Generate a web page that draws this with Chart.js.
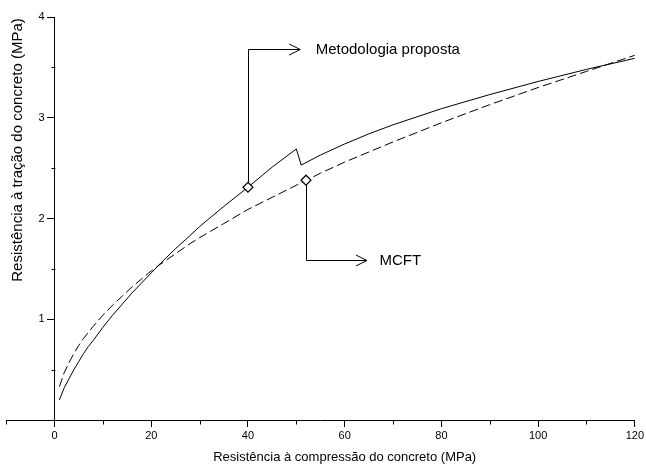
<!DOCTYPE html>
<html>
<head>
<meta charset="utf-8">
<script src="https://cdn.jsdelivr.net/npm/chart.js@4.4.1/dist/chart.umd.min.js"></script>
<style>
  html, body { margin: 0; padding: 0; background: #fff; }
  #chart { display: block; }
</style>
</head>
<body>
<canvas id="chart" width="646" height="464"></canvas>
<script>
// Tensile strength vs compressive strength of concrete (MPa)
const fcProposta = [1, 2, 3, 4, 5, 6, 7, 8, 10, 12, 14, 16, 18, 20, 22, 25, 28, 30, 35, 40, 45, 50,
  51, 55, 60, 65, 70, 80, 90, 100, 110, 120];
const ftProposta = [0.20, 0.32, 0.41, 0.50, 0.58, 0.66, 0.73, 0.79, 0.92, 1.04, 1.15, 1.26, 1.36, 1.46, 1.56, 1.70, 1.83, 1.92, 2.12, 2.31, 2.51, 2.69,
  2.53, 2.63, 2.74, 2.84, 2.93, 3.09, 3.23, 3.36, 3.48, 3.59];

const fcMcft = [1, 2, 3, 4, 5, 6, 7, 8, 10, 12, 14, 16, 18, 20, 22, 25, 28, 30, 35, 40, 45, 50,
  55, 60, 65, 70, 80, 90, 100, 110, 120];
const ftMcft = [0.33, 0.47, 0.57, 0.66, 0.74, 0.81, 0.87, 0.93, 1.04, 1.14, 1.23, 1.32, 1.40, 1.48, 1.55, 1.65, 1.75, 1.81, 1.95, 2.09, 2.21, 2.33,
  2.45, 2.56, 2.66, 2.76, 2.95, 3.13, 3.30, 3.46, 3.62];

const xTickLabels = [0, 20, 40, 60, 80, 100, 120];
const yTickLabels = [1, 2, 3, 4];

// highlighted points on each curve
const markProposta = { x: 40, y: 2.31 };
const markMcft = { x: 52, y: 2.38 };

const FONT = '"Liberation Sans", Arial, sans-serif';

// callouts: vertical from the marker to bendY, then right to the arrow tip
const callouts = [
  { text: 'Metodologia proposta', from: markProposta, bendY: 3.68, tipX: 50.8, textX: 54.0 },
  { text: 'MCFT', from: markMcft, bendY: 1.586, tipX: 64.6, textX: 67.2 }
];

const toPoints = (xs, ys) => xs.map((x, i) => ({ x: x, y: ys[i] }));

const extras = {
  id: 'extras',
  beforeDatasetsDraw(chart) {
    const { ctx, scales: { x, y } } = chart;
    ctx.save();
    ctx.strokeStyle = '#000';
    ctx.lineWidth = 1;
    callouts.forEach((c) => {
      const x0 = Math.round(x.getPixelForValue(c.from.x)) + 0.5;
      const y0 = y.getPixelForValue(c.from.y);
      const yb = Math.round(y.getPixelForValue(c.bendY)) + 0.5;
      const xt = x.getPixelForValue(c.tipX);
      ctx.beginPath();
      ctx.moveTo(x0, y0);
      ctx.lineTo(x0, yb);
      ctx.lineTo(xt, yb);
      ctx.stroke();
      // open arrow head
      ctx.beginPath();
      ctx.moveTo(xt - 11, yb - 5.5);
      ctx.lineTo(xt, yb);
      ctx.lineTo(xt - 11, yb + 5.5);
      ctx.stroke();
      ctx.fillStyle = '#000';
      ctx.font = '15px ' + FONT;
      ctx.textAlign = 'left';
      ctx.textBaseline = 'middle';
      ctx.fillText(c.text, x.getPixelForValue(c.textX), yb);
    });
    ctx.restore();
  },
  afterDraw(chart) {
    const { ctx, scales: { x, y } } = chart;
    ctx.save();
    ctx.strokeStyle = '#000';
    ctx.lineWidth = 1;
    // minor ticks
    const xAxisY = Math.round(y.getPixelForValue(0)) + 0.5;
    const yAxisX = Math.round(x.getPixelForValue(0)) + 0.5;
    ctx.beginPath();
    for (let v = -10; v <= 120; v += 10) {
      if (xTickLabels.includes(v)) continue;
      const px = Math.round(x.getPixelForValue(v)) + 0.5;
      ctx.moveTo(px, xAxisY);
      ctx.lineTo(px, xAxisY + 4);
    }
    for (let v = 0.5; v < 4; v += 1) {
      const py = Math.round(y.getPixelForValue(v)) + 0.5;
      ctx.moveTo(yAxisX, py);
      ctx.lineTo(yAxisX - 4, py);
    }
    ctx.stroke();

    // y tick labels, left of the axis that sits at x = 0
    ctx.fillStyle = '#000';
    ctx.font = '11px ' + FONT;
    ctx.textAlign = 'right';
    ctx.textBaseline = 'middle';
    y.ticks.forEach((t) => {
      if (!yTickLabels.includes(t.value)) return;
      ctx.fillText(String(t.value), yAxisX - 11, y.getPixelForValue(t.value));
    });

    // axis titles
    ctx.font = '13px ' + FONT;
    ctx.textAlign = 'center';
    ctx.fillText('Resistência à compressão do concreto (MPa)', x.getPixelForValue(60), 457);
    ctx.translate(18, 150);
    ctx.rotate(-Math.PI / 2);
    ctx.font = '15px ' + FONT;
    ctx.fillText('Resistência à tração do concreto (MPa)', 0, 0);
    ctx.restore();
  }
};

new Chart(document.getElementById('chart'), {
  type: 'line',
  data: {
    datasets: [
      {
        data: [markProposta, markMcft],
        showLine: false,
        pointStyle: 'rectRot',
        pointRadius: 5,
        pointBackgroundColor: '#fff',
        pointBorderColor: '#000',
        pointBorderWidth: 1.2,
        order: 0
      },
      {
        label: 'Metodologia proposta',
        data: toPoints(fcProposta, ftProposta),
        borderColor: '#000',
        borderWidth: 1,
        pointRadius: 0,
        tension: 0,
        fill: false,
        order: 1
      },
      {
        label: 'MCFT',
        data: toPoints(fcMcft, ftMcft),
        borderColor: '#000',
        borderWidth: 1,
        borderDash: [9, 4],
        pointRadius: 0,
        tension: 0,
        fill: false,
        order: 1
      }
    ]
  },
  options: {
    responsive: false,
    animation: false,
    devicePixelRatio: 1,
    layout: { padding: { left: 6, right: 9, top: 17, bottom: 0 } },
    plugins: {
      legend: { display: false },
      tooltip: { enabled: false }
    },
    scales: {
      x: {
        type: 'linear',
        min: -10,
        max: 120,
        afterFit: (s) => { s.height = 44; },
        ticks: {
          stepSize: 10,
          autoSkip: false,
          maxRotation: 0,
          padding: 2,
          color: '#000',
          font: { family: FONT, size: 11 },
          callback: (v) => (xTickLabels.includes(v) ? String(v) : '')
        },
        grid: {
          drawOnChartArea: false,
          tickLength: 7,
          tickColor: (c) => (c.tick && xTickLabels.includes(c.tick.value) ? '#000' : 'rgba(0,0,0,0)')
        },
        border: { color: '#000', width: 1 }
      },
      y: {
        type: 'linear',
        position: { x: 0 },
        min: 0,
        max: 4,
        ticks: {
          stepSize: 0.5,
          display: false
        },
        grid: {
          drawOnChartArea: false,
          tickLength: 7,
          tickColor: (c) => (c.tick && yTickLabels.includes(c.tick.value) ? '#000' : 'rgba(0,0,0,0)')
        },
        border: { color: '#000', width: 1 }
      }
    }
  },
  plugins: [extras]
});
</script>
</body>
</html>
